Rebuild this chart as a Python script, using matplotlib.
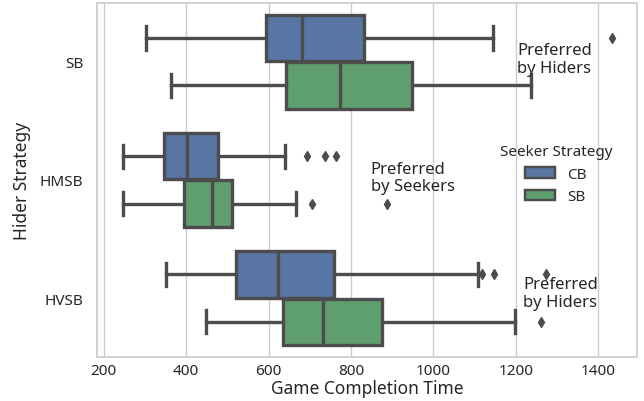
import matplotlib
matplotlib.use('Agg')
import matplotlib.pyplot as plt
from matplotlib.patches import Patch

plt.rcParams['font.family'] = ['Noto Sans', 'DejaVu Sans']

# Box statistics
hiders = ['SB', 'HMSB', 'HVSB']
seekers = ['CB', 'SB']

cb_whislo = [303, 247, 350]
cb_q1 = [594, 346, 522]
cb_med = [682, 402, 622]
cb_q3 = [832, 478, 759]
cb_whishi = [1145, 639, 1109]
cb_fliers = [[1434], [694, 738, 764], [1118, 1148, 1274]]

sb_whislo = [364, 247, 449]
sb_q1 = [641, 395, 636]
sb_med = [774, 462, 733]
sb_q3 = [949, 512, 875]
sb_whishi = [1236, 667, 1199]
sb_fliers = [[], [706, 887], [1262]]

notes = ['Preferred\nby Hiders', 'Preferred\nby Seekers', 'Preferred\nby Hiders']
note_x = [1204, 848, 1218]
note_y = [-0.02, 0.98, 1.96]

colors = ['#5975a4', '#5f9e6e']
gray = '#4c4c4c'
text_color = '#262626'


def make_stats(whislo, q1, med, q3, whishi, fliers):
    stats = []
    for i in range(len(med)):
        stats.append(dict(whislo=whislo[i], q1=q1[i], med=med[i], q3=q3[i],
                          whishi=whishi[i], fliers=fliers[i]))
    return stats


def main():
    fig = plt.figure(figsize=(6.44, 4.02), dpi=100)
    ax = fig.add_axes([0.151, 0.109, 0.838, 0.882])

    groups = [make_stats(cb_whislo, cb_q1, cb_med, cb_q3, cb_whishi, cb_fliers),
              make_stats(sb_whislo, sb_q1, sb_med, sb_q3, sb_whishi, sb_fliers)]
    offsets = [-0.2, 0.2]
    lw = 2.4
    for stats, off, col in zip(groups, offsets, colors):
        pos = [i + off for i in range(len(hiders))]
        ax.bxp(stats, positions=pos, widths=0.392, vert=False, patch_artist=True,
               boxprops=dict(facecolor=col, edgecolor=gray, linewidth=lw),
               medianprops=dict(color=gray, linewidth=lw),
               whiskerprops=dict(color=gray, linewidth=lw),
               capprops=dict(color=gray, linewidth=lw),
               flierprops=dict(marker='d', markersize=5, markerfacecolor=gray,
                               markeredgecolor=gray, linestyle='none'),
               zorder=3)

    for x, y, s in zip(note_x, note_y, notes):
        ax.text(x, y, s, ha='left', va='center', fontsize=12, color=text_color,
                linespacing=1.15, zorder=4)

    ax.set_xlim(184, 1494)
    ax.set_ylim(2.5, -0.5)
    ax.set_yticks(range(len(hiders)))
    ax.set_yticklabels(hiders)
    ax.set_xticks([200, 400, 600, 800, 1000, 1200, 1400])

    ax.xaxis.grid(True, color='#cccccc', linewidth=1.0, zorder=0)
    ax.yaxis.grid(False)
    ax.set_axisbelow(True)
    for sp in ax.spines.values():
        sp.set_color('#cccccc')
        sp.set_linewidth(1.25)
    ax.tick_params(axis='x', length=0, labelsize=11, colors=text_color, pad=4)
    ax.tick_params(axis='y', length=0, labelsize=11, colors=text_color, pad=10)

    ax.set_xlabel('Game Completion Time', fontsize=12.5, color=text_color, labelpad=1)
    ax.set_ylabel('Hider Strategy', fontsize=12.5, color=text_color, labelpad=6)

    handles = [Patch(facecolor=c, edgecolor=gray, linewidth=1.75, label=s)
               for c, s in zip(colors, seekers)]
    leg = ax.legend(handles=handles, title='Seeker Strategy', frameon=False,
                    loc='center', bbox_to_anchor=(0.85, 0.516), fontsize=11,
                    title_fontsize=11)
    leg.get_title().set_color(text_color)
    for t in leg.get_texts():
        t.set_color(text_color)

    fig.savefig('out.png', dpi=100)


if __name__ == '__main__':
    main()
